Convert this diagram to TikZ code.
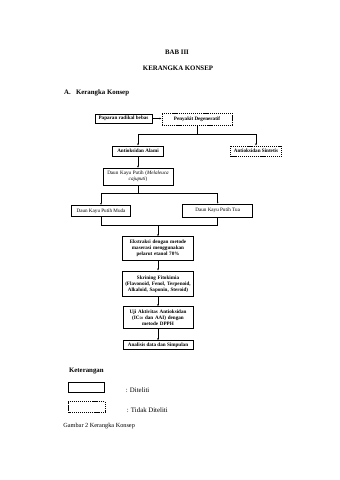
\documentclass[tikz,border=0pt]{standalone}
\usepackage{fontspec}
\setmainfont{Liberation Serif}
\usetikzlibrary{arrows.meta}
\begin{document}
\begin{tikzpicture}[x=1.756pt,y=-1.756pt,
  box/.style={draw, line width=0.9pt, inner sep=1pt, align=center, font=\fontsize{9}{10.5}\selectfont\bfseries},
  rbox/.style={box, font=\fontsize{9}{10.5}\selectfont},
  dbox/.style={box, dash pattern=on 2pt off 1.4pt},
  arr/.style={-{Latex[length=3.5pt,width=3pt]}, line width=0.8pt},
  ln/.style={line width=0.8pt},
  ttl/.style={font=\fontsize{12}{14}\selectfont\bfseries, inner sep=0pt},
  txt/.style={font=\fontsize{12}{14}\selectfont, inner sep=0pt, anchor=west}]
\useasboundingbox (0,0) rectangle (339,480);
\fill[white] (0,0) rectangle (339,480);
% headings
\node[ttl] (bab) at (177,52.7) {BAB III};
\node[ttl] (kk) at (178,68.3) {KERANGKA KONSEP};
\node[ttl, anchor=west] (secA) at (64,92.7) {A.};
\node[ttl, anchor=west] (secT) at (76,92.7) {Kerangka Konsep};
% boxes
\node[box, minimum width=100pt, minimum height=15.8pt] (pap) at (123.5,118.5) {Paparan radikal bebas};
\node[dbox, minimum width=123pt, minimum height=21pt] (peny) at (197,119) {Penyakit Degeneratif};
\node[box, minimum width=89.6pt, minimum height=17.6pt] (alami) at (138,151) {Antioksidan Alami};
\node[dbox, minimum width=89.6pt, minimum height=17.6pt] (sint) at (256,151) {Antioksidan Sintetis};
\node[rbox, minimum width=123pt, minimum height=29.9pt, text width=119pt] (daun) at (138,176.7) {Daun Kayu Putih (\textit{Melaleuca}\\ \textit{cajuputi})};
\node[rbox, minimum width=103.6pt, minimum height=20.2pt] (muda) at (101,211) {Daun Kayu Putih Muda};
\node[rbox, minimum width=123pt, minimum height=22.8pt] (tua) at (217.7,210.5) {Daun Kayu Putih Tua};
\node[box, minimum width=124.7pt, minimum height=41pt, text width=121pt] (ekst) at (158,248.3) {Ekstraksi dengan metode\\ maserasi menggunakan\\ pelarut etanol 70\%};
\node[box, minimum width=124.7pt, minimum height=45pt, text width=122pt] (skr) at (158,283.8) {Skrining Fitokimia\\ (Flavonoid, Fenol, Terpenoid,\\ Alkaloid, Saponin, Steroid)};
\node[box, minimum width=123pt, minimum height=38pt, text width=120pt] (uji) at (158,317.5) {Uji Aktivitas Antioksidan\\ (IC\textsubscript{50} dan AAI) dengan\\ metode DPPH};
\node[box, minimum width=123pt, minimum height=15pt] (ana) at (158,345) {Analisis data dan Simpulan};
% connectors
\coordinate (jA) at (197,134);
\coordinate (jB) at (138,193.3);
\coordinate (jC) at (158,225);
\draw[arr] (pap.east) -- (pap.east -| peny.west);
\draw[ln] (peny.south) -- (jA);
\draw[arr] (jA) -| (alami.north);
\draw[arr] (jA) -| (sint.north);
\draw[arr] (alami.south) -- (daun.north);
\draw[ln] (daun.south) -- (jB);
\draw[arr] (jB) -| (muda.north);
\draw[arr] (jB) -| (tua.north);
\draw[ln] (muda.south) |- (jC);
\draw[ln] (tua.south) |- (jC);
\draw[arr] (jC) -- (ekst.north);
\draw[arr] (ekst.south) -- (skr.north);
\draw[arr] (skr.south) -- (uji.north);
\draw[arr] (uji.south) -- (ana.north);
% legend
\node[ttl, anchor=west] (ket) at (69,370.7) {Keterangan};
\node[box, minimum width=62.7pt, minimum height=18.3pt] (lg1) at (86.2,387.5) {};
\node[dbox, minimum width=64.4pt, minimum height=19.3pt] (lg2) at (86.7,407.2) {};
\node[txt] (t1) at (125.7,390) {: Diteliti};
\node[txt] (t2) at (126.7,410) {: Tidak Diteliti};
\node[txt, font=\fontsize{11}{13}\selectfont] (cap) at (63.3,425.7) {Gambar 2 Kerangka Konsep};
\end{tikzpicture}
\end{document}
